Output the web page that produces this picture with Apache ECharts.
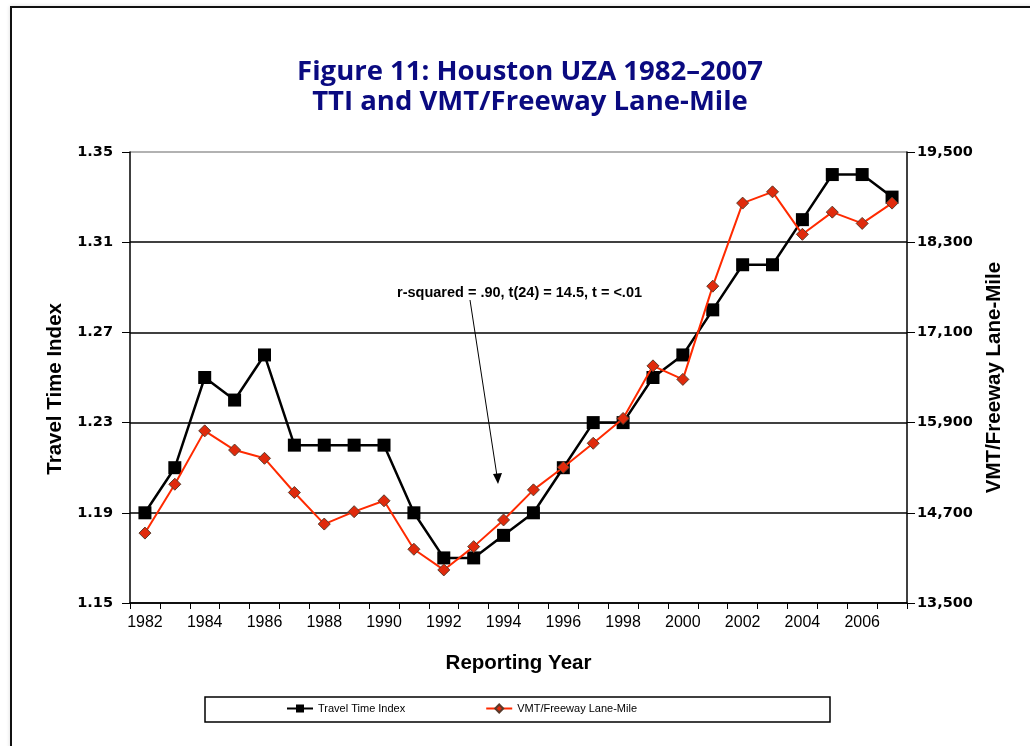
<!DOCTYPE html>
<html>
<head>
<meta charset="utf-8">
<script src="https://cdn.jsdelivr.net/npm/echarts@6/dist/echarts.min.js"></script>
<style>
  html, body { margin: 0; padding: 0; background: #fff; }
  #frame {
    position: absolute; left: 10px; top: 6px; width: 1100px; height: 800px;
    border: 2px solid #111; box-shadow: 0 0 4px rgba(0,0,0,0.15);
  }
  #chart { position: absolute; left: 0; top: 0; width: 1030px; height: 746px; }
</style>
</head>
<body>
<div id="frame"></div>
<div id="chart"></div>
<script>
// years on the x axis
const years = ['1982','1983','1984','1985','1986','1987','1988','1989','1990','1991','1992','1993','1994',
  '1995','1996','1997','1998','1999','2000','2001','2002','2003','2004','2005','2006','2007'];
// travel time index (left axis)
const tti = [1.19, 1.21, 1.25, 1.24, 1.26, 1.22, 1.22, 1.22, 1.22, 1.19, 1.17, 1.17, 1.18,
  1.19, 1.21, 1.23, 1.23, 1.25, 1.26, 1.28, 1.30, 1.30, 1.32, 1.34, 1.34, 1.33];
// VMT per freeway lane-mile (right axis)
const vmt = [14430, 15080, 15790, 15535, 15425, 14970, 14550, 14715, 14860, 14215, 13940, 14250, 14605,
  15005, 15305, 15625, 15955, 16655, 16475, 17715, 18820, 18970, 18405, 18700, 18550, 18820];

const myChart = echarts.init(document.getElementById('chart'), null, { renderer: 'canvas' });

const arial = 'Liberation Sans, Arial, sans-serif';
const tickFont = 'DejaVu Sans, Liberation Sans, sans-serif';

const option = {
  animation: false,
  title: {
    text: 'Figure 11: Houston UZA 1982\u20132007\nTTI and VMT/Freeway Lane-Mile',
    left: 525,
    textAlign: 'center',
    top: 52,
    textStyle: {
      color: '#0a0a80',
      fontFamily: 'Open Sans, DejaVu Sans, sans-serif',
      fontWeight: 'bold',
      fontSize: 27.5,
      lineHeight: 30
    }
  },
  grid: { left: 130, right: 123, top: 152, bottom: 143 },
  legend: {
    bottom: 27,
    left: 281,
    itemGap: 80,
    itemWidth: 26,
    itemHeight: 10,
    textStyle: { fontFamily: arial, fontSize: 11, color: '#000' },
    data: ['Travel Time Index', 'VMT/Freeway Lane-Mile']
  },
  xAxis: {
    type: 'category',
    data: years,
    boundaryGap: true,
    name: 'Reporting Year',
    nameLocation: 'middle',
    nameGap: 50,
    nameTextStyle: { fontFamily: arial, fontWeight: 'bold', fontSize: 20.5, color: '#000' },
    axisLine: { lineStyle: { color: '#000', width: 1.5 } },
    axisTick: { show: true, interval: 0, length: 6, lineStyle: { color: '#000' } },
    axisLabel: { interval: 1, fontFamily: arial, fontSize: 16, color: '#000', margin: 12 }
  },
  yAxis: [
    {
      type: 'value',
      min: 1.15,
      max: 1.35,
      interval: 0.04,
      position: 'left',
      // trailing spaces push the name a little below the middle, as in the original
      name: 'Travel Time Index    ',
      nameLocation: 'middle',
      nameGap: 59,
      nameTextStyle: { fontFamily: arial, fontWeight: 'bold', fontSize: 20.5, color: '#000' },
      axisLine: { show: true, lineStyle: { color: '#000', width: 1.5 } },
      axisTick: { show: true, length: 8, lineStyle: { color: '#000' } },
      axisLabel: {
        fontFamily: tickFont, fontWeight: 'bold', fontSize: 14.5, color: '#000', margin: 17,
        formatter: v => v.toFixed(2)
      },
      splitLine: { show: true, lineStyle: { color: ['#000', '#000', '#000', '#000', '#000', '#999'], width: 1.5 } }
    },
    {
      type: 'value',
      min: 13500,
      max: 19500,
      interval: 1200,
      position: 'right',
      name: 'VMT/Freeway Lane-Mile',
      nameLocation: 'middle',
      nameGap: 76,
      nameRotate: 90,
      nameTextStyle: { fontFamily: arial, fontWeight: 'bold', fontSize: 20.5, color: '#000' },
      axisLine: { show: true, lineStyle: { color: '#000', width: 1.5 } },
      axisTick: { show: true, length: 8, lineStyle: { color: '#000' } },
      axisLabel: {
        fontFamily: tickFont, fontWeight: 'bold', fontSize: 14.5, color: '#000', margin: 10,
        formatter: v => v.toLocaleString('en-US')
      },
      splitLine: { show: false }
    }
  ],
  graphic: [
    {
      type: 'rect',
      shape: { x: 205, y: 697, width: 625, height: 25 },
      style: { fill: 'none', stroke: '#000', lineWidth: 1.5 },
      z: 0
    },
    {
      type: 'text',
      x: 397, y: 285,
      style: {
        text: 'r-squared = .90, t(24) = 14.5, t = <.01',
        fontFamily: arial, fontWeight: 'bold', fontSize: 14.5, fill: '#000'
      },
      z: 10
    },
    {
      type: 'line',
      shape: { x1: 470, y1: 300, x2: 497, y2: 476 },
      style: { stroke: '#000', lineWidth: 1 },
      z: 10
    },
    {
      type: 'polygon',
      shape: { points: [[498, 484], [493, 474], [502, 473]] },
      style: { fill: '#000' },
      z: 10
    }
  ],
  series: [
    {
      name: 'Travel Time Index',
      type: 'line',
      yAxisIndex: 0,
      data: tti,
      symbol: 'rect',
      symbolSize: 13,
      itemStyle: { color: '#000' },
      lineStyle: { color: '#000', width: 2.5 },
      z: 3
    },
    {
      name: 'VMT/Freeway Lane-Mile',
      type: 'line',
      yAxisIndex: 1,
      data: vmt,
      symbol: 'diamond',
      symbolSize: 12,
      itemStyle: { color: '#e02a0c', borderColor: '#5a3a2a', borderWidth: 1 },
      lineStyle: { color: '#ff2a00', width: 2 },
      z: 4
    }
  ]
};

myChart.setOption(option);
</script>
</body>
</html>
